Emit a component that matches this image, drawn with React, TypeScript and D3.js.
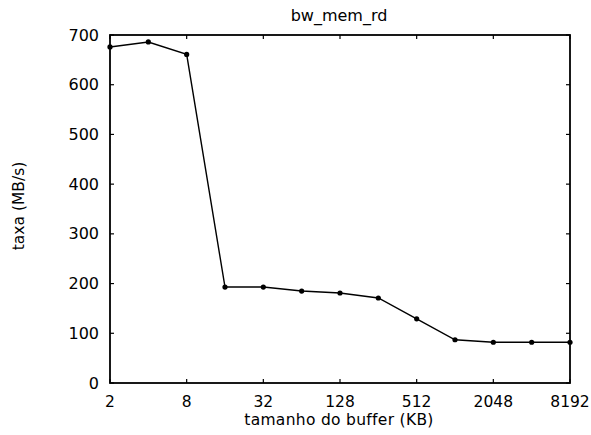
import React from "react";
import * as d3 from "d3";

const sizesKB = [2, 4, 8, 16, 32, 64, 128, 256, 512, 1024, 2048, 4096, 8192];
const rates = [676, 686, 661, 193, 193, 185, 181, 171, 129, 87, 82, 82, 82];
const xTicks = [2, 8, 32, 128, 512, 2048, 8192];
const yTicks = [0, 100, 200, 300, 400, 500, 600, 700];

const W = 591, H = 435;
const M = { left: 110, right: 21, top: 35, bottom: 52 };
const FONT = "'DejaVu Sans', Verdana, sans-serif";

export default function App() {
  const x = d3.scaleLog().base(2).domain([2, 8192]).range([M.left, W - M.right]);
  const y = d3.scaleLinear().domain([0, 700]).range([H - M.bottom, M.top]);
  const line = d3.line<number>().x((_, i) => x(sizesKB[i])).y((d) => y(d));
  const x0 = M.left, x1 = W - M.right, y0 = H - M.bottom, y1 = M.top;
  const tk = 4;
  return (
    <svg width={W} height={H} style={{ position: "absolute", left: 0, top: 0, background: "#fff" }}>
      <rect x={0} y={0} width={W} height={H} fill="#fff" />
      <text x={339} y={21} textAnchor="middle" fontFamily={FONT} fontSize={16}>bw_mem_rd</text>
      <rect x={x0} y={y1} width={x1 - x0} height={y0 - y1} fill="none" stroke="#000" strokeWidth={1.8} />
      {yTicks.map((t) => (
        <g key={"y" + t}>
          <line x1={x0} x2={x0 + tk} y1={y(t)} y2={y(t)} stroke="#000" strokeWidth={1.2} />
          <line x1={x1} x2={x1 - tk} y1={y(t)} y2={y(t)} stroke="#000" strokeWidth={1.2} />
          <text x={x0 - 11} y={y(t) + 5.5} textAnchor="end" fontFamily={FONT} fontSize={16}>{t}</text>
        </g>
      ))}
      {xTicks.map((t) => (
        <g key={"x" + t}>
          <line x1={x(t)} x2={x(t)} y1={y0} y2={y0 - tk} stroke="#000" strokeWidth={1.2} />
          <line x1={x(t)} x2={x(t)} y1={y1} y2={y1 + tk} stroke="#000" strokeWidth={1.2} />
          <text x={x(t)} y={y0 + 24} textAnchor="middle" fontFamily={FONT} fontSize={15.5}>{t}</text>
        </g>
      ))}
      <text x={339} y={y0 + 42} textAnchor="middle" fontFamily={FONT} fontSize={15.5} letterSpacing={0.3}>tamanho do buffer (KB)</text>
      <text transform={`translate(24,206) rotate(-90)`} textAnchor="middle" fontFamily={FONT} fontSize={15.5}>taxa (MB/s)</text>
      <path d={line(rates) || ""} fill="none" stroke="#000" strokeWidth={1.4} />
      {rates.map((r, i) => (
        <circle key={i} cx={x(sizesKB[i])} cy={y(r)} r={2.6} fill="#000" />
      ))}
    </svg>
  );
}
